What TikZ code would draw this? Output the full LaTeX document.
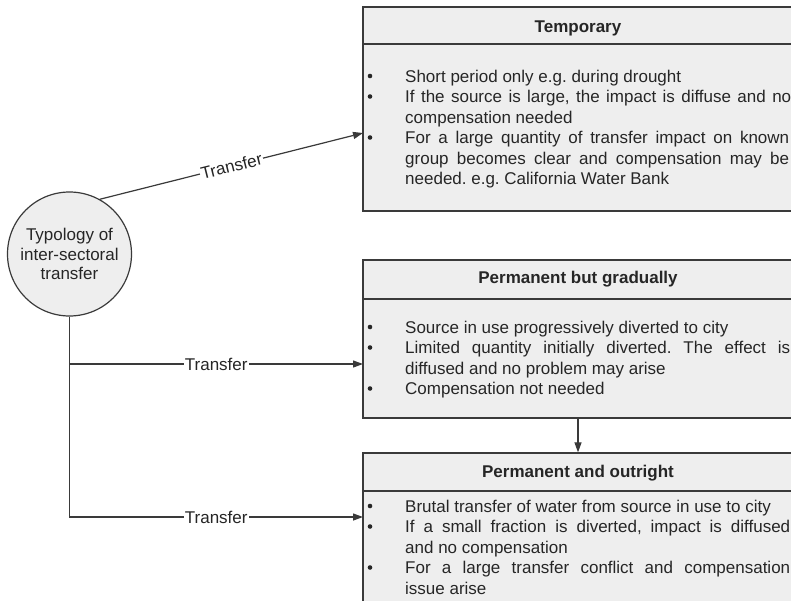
\documentclass[tikz,border=0pt]{standalone}
\usepackage{fontspec}
\setmainfont{Liberation Sans}
\usetikzlibrary{arrows.meta}
\definecolor{ln}{HTML}{3A3A3A}
\definecolor{bx}{HTML}{EEEEEE}
\definecolor{tx}{HTML}{262626}
\frenchspacing
\begin{document}
\begin{tikzpicture}[x=1pt,y=-1pt,
  boxshape/.style={draw=ln, line width=1.3pt, fill=bx, rectangle, inner sep=0pt, minimum width=430pt},
  sep/.style={draw=ln, line width=1.3pt},
  conn/.style={draw=ln, line width=1.2pt},
  arr/.style={conn, -{Triangle[length=10pt,width=7pt]}},
  lbl/.style={fill=white, inner sep=1pt, text=tx, font=\fontsize{17}{20}\selectfont},
  body/.style={anchor=base west, inner sep=0pt, text=tx, font=\fontsize{17}{20}\selectfont},
  head/.style={anchor=base, inner sep=0pt, text=tx, font=\fontsize{17}{20}\selectfont\bfseries},
  dot/.style={fill=tx}
]
\clip (0,0) rectangle (791,600);
\fill[white] (0,0) rectangle (791,600);

% ---- box 1
\node[boxshape, minimum height=204pt] (temp) at (578,109) {};
\draw[sep] (363,44) -- (793,44);
\node[head] (temph) at (578,32.5) {Temporary};
\fill[dot] (370,76) circle (2.3);
\fill[dot] (370,96.5) circle (2.3);
\fill[dot] (370,137.5) circle (2.3);
\node[body] (t1) at (405,82) {Short period only e.g. during drought};
\node[body] (t2) at (405,102.5) {\makebox[386pt][s]{If the source is large, the impact is diffuse and no}};
\node[body] (t3) at (405,123) {compensation needed};
\node[body] (t4) at (405,143.5) {\makebox[384pt][s]{For a large quantity of transfer impact on known}};
\node[body] (t5) at (405,164) {\makebox[384pt][s]{group becomes clear and compensation may be}};
\node[body] (t6) at (405,184.5) {needed. e.g. California Water Bank};

% ---- box 2
\node[boxshape, minimum height=158pt] (grad) at (578,339) {};
\draw[sep] (363,299) -- (793,299);
\node[head] (gradh) at (578,283) {Permanent but gradually};
\fill[dot] (370,327) circle (2.3);
\fill[dot] (370,347.5) circle (2.3);
\fill[dot] (370,388.5) circle (2.3);
\node[body] (g1) at (405,333) {Source in use progressively diverted to city};
\node[body] (g2) at (405,353.5) {\makebox[385pt][s]{Limited quantity initially diverted. The effect is}};
\node[body] (g3) at (405,374) {diffused and no problem may arise};
\node[body] (g4) at (405,394.5) {Compensation not needed};

% ---- box 3
\node[boxshape, minimum height=159pt] (outr) at (578,532.5) {};
\draw[sep] (363,491) -- (793,491);
\node[head] (outrh) at (578,477) {Permanent and outright};
\fill[dot] (370,506) circle (2.3);
\fill[dot] (370,526.5) circle (2.3);
\fill[dot] (370,567.5) circle (2.3);
\node[body] (o1) at (405,512) {Brutal transfer of water from source in use to city};
\node[body] (o2) at (405,532.5) {\makebox[385pt][s]{If a small fraction is diverted, impact is diffused}};
\node[body] (o3) at (405,553) {and no compensation};
\node[body] (o4) at (405,573.5) {\makebox[385pt][s]{For a large transfer conflict and compensation}};
\node[body] (o5) at (405,594) {issue arise};

% ---- circle
\node[draw=ln, line width=1.2pt, fill=bx, circle, minimum size=124pt, inner sep=0pt,
      align=center, text=tx, font=\fontsize{17}{19.5}\selectfont] (typ) at (69.5,254)
      {Typology of\\inter-sectoral\\transfer};

% ---- connectors
\coordinate (eT) at (363,133);
\coordinate (eG) at (363,364);
\coordinate (eO) at (363,517);
\draw[arr] (typ.61) -- node[lbl, sloped]{Transfer} (eT);
\draw[arr] (typ.south) |- node[lbl, pos=0.75]{Transfer} (eO);
\draw[arr] (typ.south |- eG) -- node[lbl]{Transfer} (eG);
\draw[arr] (grad.south) -- (outr.north);
\end{tikzpicture}
\end{document}
